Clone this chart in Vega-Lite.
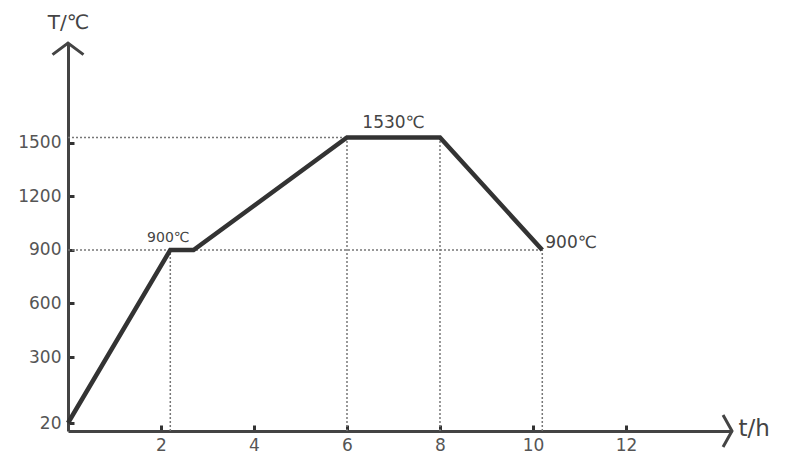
{
  "$schema": "https://vega.github.io/schema/vega-lite/v6.json",
  "width": 664,
  "height": 388,
  "autosize": {"type": "none"},
  "padding": {"left": 68, "top": 43, "right": 53, "bottom": 28},
  "background": "white",
  "config": {"view": {"stroke": null}, "font": "DejaVu Sans"},
  "datasets": {
    "curve": [
      {"t": 0, "T": 20},
      {"t": 2.2, "T": 900},
      {"t": 2.7, "T": 900},
      {"t": 6, "T": 1530},
      {"t": 8, "T": 1530},
      {"t": 10.2, "T": 900}
    ],
    "guides": [
      {"t": 0, "t2": 6, "T": 1530, "T2": 1530},
      {"t": 0, "t2": 10.2, "T": 900, "T2": 900},
      {"t": 2.2, "t2": 2.2, "T": -14, "T2": 900},
      {"t": 6, "t2": 6, "T": -14, "T2": 1530},
      {"t": 8, "t2": 8, "T": -14, "T2": 1530},
      {"t": 10.2, "t2": 10.2, "T": -14, "T2": 900}
    ],
    "labels": [
      {"t": 2.2, "T": 900, "label": "900℃", "kind": "a"},
      {"t": 7, "T": 1530, "label": "1530℃", "kind": "b"},
      {"t": 10.2, "T": 900, "label": "900℃", "kind": "c"}
    ],
    "arrows": [
      {"t": 0, "T": 2060, "dir": "up"},
      {"t": 14.28, "T": -14, "dir": "right"}
    ]
  },
  "encoding": {
    "x": {
      "field": "t",
      "type": "quantitative",
      "scale": {"domain": [0, 14.28], "nice": false, "zero": false},
      "axis": {
        "values": [2, 4, 6, 8, 10, 12],
        "format": "d",
        "grid": false,
        "title": "t/h",
        "titleAngle": 0,
        "titleX": 670,
        "titleY": -3,
        "titleAlign": "left",
        "titleBaseline": "middle",
        "titleFontSize": 23,
        "titleFontWeight": "normal",
        "titleColor": "#444",
        "domainColor": "#444",
        "domainWidth": 3,
        "tickColor": "#333",
        "tickWidth": 3,
        "tickSize": -6,
        "labelFontSize": 17,
        "labelColor": "#555",
        "labelPadding": 12
      }
    },
    "y": {
      "field": "T",
      "type": "quantitative",
      "scale": {"domain": [-14, 20, 300, 2060], "range": [388, 380, 314, 0], "nice": false, "zero": false},
      "axis": {
        "values": [20, 300, 600, 900, 1200, 1500],
        "format": "d",
        "grid": false,
        "title": "T/℃",
        "titleAngle": 0,
        "titleX": 0,
        "titleY": -21,
        "titleAlign": "center",
        "titleBaseline": "middle",
        "titleFontSize": 20,
        "titleFontWeight": "normal",
        "titleColor": "#444",
        "domainColor": "#444",
        "domainWidth": 3,
        "tickColor": "#333",
        "tickWidth": 3,
        "tickSize": -6,
        "labelFontSize": 17,
        "labelColor": "#555",
        "labelPadding": 13
      }
    }
  },
  "layer": [
    {
      "data": {"name": "guides"},
      "mark": {"type": "rule", "color": "#777", "strokeWidth": 1.5, "strokeDash": [2, 2]},
      "encoding": {"x2": {"field": "t2"}, "y2": {"field": "T2"}}
    },
    {
      "data": {"name": "curve"},
      "mark": {"type": "line", "color": "#333", "strokeWidth": 4.5, "strokeJoin": "miter"},
      "encoding": {}
    },
    {
      "data": {"name": "labels"},
      "transform": [{"filter": "datum.kind === 'a'"}],
      "mark": {"type": "text", "fontSize": 14, "color": "#444", "align": "center", "baseline": "bottom", "dy": -5, "dx": -2},
      "encoding": {"text": {"field": "label"}}
    },
    {
      "data": {"name": "labels"},
      "transform": [{"filter": "datum.kind === 'b'"}],
      "mark": {"type": "text", "fontSize": 17, "color": "#444", "align": "center", "baseline": "bottom", "dy": -6},
      "encoding": {"text": {"field": "label"}}
    },
    {
      "data": {"name": "labels"},
      "transform": [{"filter": "datum.kind === 'c'"}],
      "mark": {"type": "text", "fontSize": 17, "color": "#444", "align": "left", "baseline": "middle", "dx": 3, "dy": -7},
      "encoding": {"text": {"field": "label"}}
    },
    {
      "data": {"name": "arrows"},
      "transform": [{"filter": "datum.dir === 'up'"}],
      "mark": {"type": "point", "shape": "M-1,0.75L0,0L1,0.75", "size": 961, "filled": false, "stroke": "#444", "strokeWidth": 3, "opacity": 1}
    },
    {
      "data": {"name": "arrows"},
      "transform": [{"filter": "datum.dir === 'right'"}],
      "mark": {"type": "point", "shape": "M-0.56,-1L0,0L-0.56,1", "size": 1024, "filled": false, "stroke": "#444", "strokeWidth": 3, "opacity": 1}
    }
  ]
}
